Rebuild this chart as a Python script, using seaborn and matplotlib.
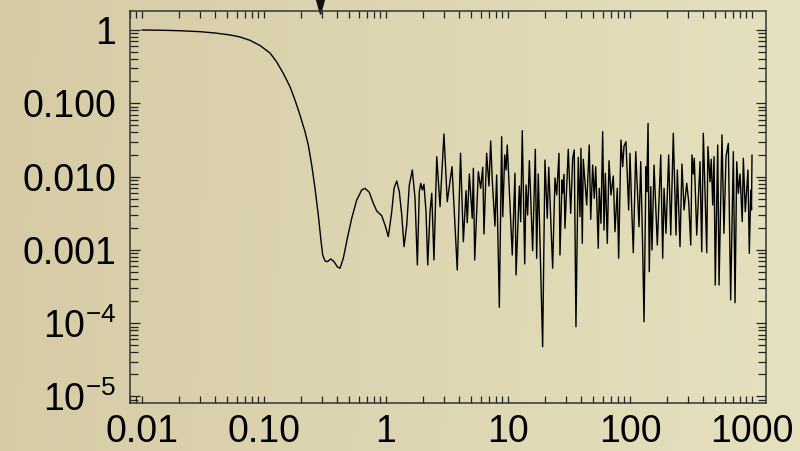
import numpy as np
import pandas as pd
import matplotlib
matplotlib.use("Agg")
import matplotlib.pyplot as plt
from matplotlib.path import Path
from matplotlib.ticker import FixedLocator, FixedFormatter, LogLocator, NullFormatter
import matplotlib.transforms as mtransforms
import seaborn as sns

# Filter response: log10 of frequency and log10 of gain for each sample
log_freq = [
    -2.000, -1.852, -1.689, -1.525, -1.402, -1.279, -1.197, -1.115, -1.033, -0.951,
    -0.896, -0.842, -0.787, -0.746, -0.705, -0.664, -0.637, -0.609, -0.582, -0.555,
    -0.535, -0.519, -0.500, -0.481, -0.453, -0.426, -0.399, -0.377, -0.350, -0.317,
    -0.281, -0.240, -0.199, -0.172, -0.137, -0.104, -0.076, -0.035, -0.008, 0.019,
    0.047, 0.066, 0.088, 0.109, 0.129, 0.148, 0.170, 0.191, 0.216, 0.238,
    0.257, 0.273, 0.285, 0.298, 0.311, 0.328, 0.342, 0.361, 0.375, 0.393,
    0.416, 0.443,
    0.475, 0.502, 0.541, 0.584, 0.611, 0.634, 0.656, 0.666, 0.683, 0.707,
    0.716, 0.727, 0.757, 0.776, 0.793, 0.803, 0.825, 0.844, 0.858, 0.871,
    0.893, 0.907, 0.929, 0.948, 0.957, 0.973, 0.984, 0.994, 1.035, 1.057,
    1.066, 1.093, 1.104, 1.117, 1.137, 1.148, 1.161, 1.175, 1.202, 1.224,
    1.235, 1.248, 1.284, 1.303, 1.322, 1.334, 1.366, 1.385, 1.399, 1.418,
    1.426, 1.443, 1.448, 1.459, 1.467, 1.494, 1.514, 1.530, 1.543, 1.557,
    1.576, 1.590, 1.598, 1.609, 1.617, 1.645, 1.666, 1.678, 1.694, 1.707,
    1.719, 1.740, 1.748, 1.762, 1.776, 1.787, 1.798, 1.814, 1.828, 1.844,
    1.863, 1.877, 1.896, 1.907, 1.926, 1.940, 1.951, 1.967, 1.989, 2.000,
    2.014, 2.027, 2.047, 2.074, 2.088, 2.104, 2.115, 2.131, 2.137, 2.148,
    2.158, 2.170, 2.180, 2.197, 2.224, 2.252, 2.268, 2.279, 2.295, 2.317,
    2.334, 2.355, 2.377, 2.388, 2.410, 2.426, 2.443, 2.465, 2.481, 2.498,
    2.508, 2.519, 2.527, 2.547, 2.574, 2.588, 2.601, 2.629, 2.639, 2.656,
    2.666, 2.678, 2.689, 2.699, 2.719, 2.730, 2.754, 2.770, 2.787, 2.806,
    2.825, 2.847, 2.861, 2.875, 2.888, 2.902, 2.920, 2.929, 2.945, 2.967,
    2.978, 2.990, 2.996, 3.000,
]
log_gain = [
    0.000, -0.003, -0.010, -0.023, -0.041, -0.068, -0.095, -0.141, -0.211, -0.314,
    -0.436, -0.591, -0.774, -0.955, -1.160, -1.387, -1.569, -1.842, -2.160, -2.524,
    -2.842, -3.070, -3.151, -3.161, -3.124, -3.161, -3.230, -3.251, -3.115, -2.842,
    -2.569, -2.319, -2.183, -2.160, -2.214, -2.365, -2.469, -2.534, -2.661, -2.820,
    -2.479, -2.160, -2.060, -2.206, -2.524, -2.956, -2.660, -2.115, -1.910, -2.296,
    -3.206, -2.206, -2.092, -2.183, -2.105, -2.479, -3.206, -2.479, -2.228, -3.138,
    -1.729, -2.411,
    -1.419, -2.342, -1.865, -3.274, -1.682, -2.888, -2.192, -2.629, -1.965, -2.569,
    -1.887, -3.138, -1.933, -2.160, -1.873, -2.783, -1.682, -2.128, -1.514, -2.046,
    -2.674, -1.978, -3.783, -1.456, -2.547, -1.705, -1.910, -1.569, -3.070, -1.955,
    -3.342, -2.128, -2.615, -1.374, -3.192, -2.115, -2.524, -1.783, -3.011, -1.628,
    -3.115, -1.965, -4.321, -1.774, -2.569, -1.873, -3.251, -2.019, -2.251, -1.682,
    -3.070, -2.046, -2.228, -1.969, -2.705, -1.628, -2.501, -1.750, -1.637, -4.048,
    -1.737, -2.547, -1.614, -2.910, -1.764, -2.387, -1.569, -2.583, -1.842, -2.296,
    -1.865, -2.978, -2.160, -2.637, -1.387, -2.729, -1.955, -2.910, -1.783, -2.251,
    -1.992, -2.752, -2.160, -3.115, -1.501, -1.865, -1.583, -1.524, -2.456, -1.682,
    -2.432, -3.038, -1.660, -2.684, -1.797, -2.978, -3.980, -1.865, -2.206, -1.273,
    -3.297, -2.138, -3.001, -1.842, -2.933, -1.705, -3.115, -2.160, -2.774, -1.705,
    -2.797, -1.409, -2.797, -1.910, -2.956, -1.828, -2.456, -2.091, -2.342, -2.933,
    -1.705, -1.965, -1.750, -2.797, -1.797, -3.025, -1.409, -3.038, -1.592, -2.070,
    -1.764, -2.387, -1.729, -3.479, -1.569, -3.479, -1.432, -2.774, -1.729, -1.546,
    -3.683, -1.660, -3.720, -1.797, -2.228, -1.965, -2.615, -1.750, -2.479, -1.910,
    -3.046, -2.183, -2.456, -1.705,
]
assert len(log_freq) == len(log_gain)

cutoff = 0.288

x_ticks = [0.01, 0.1, 1, 10, 100, 1000]
x_labels = ["0.01", "0.10", "1", "10", "100", "1000"]
y_ticks = [1, 0.1, 0.01, 0.001, 1e-4, 1e-5]
y_labels = ["1", "0.100", "0.010", "0.001", r"$10^{-4}$", r"$10^{-5}$"]

df = pd.DataFrame({"freq": 10 ** np.array(log_freq), "gain": 10 ** np.array(log_gain)})

sns.set_style("ticks")
plt.rcParams["font.family"] = ["Liberation Sans", "DejaVu Sans"]
plt.rcParams["mathtext.fontset"] = "custom"
plt.rcParams["mathtext.rm"] = "Liberation Sans"
plt.rcParams["mathtext.it"] = "Liberation Sans"
plt.rcParams["mathtext.default"] = "regular"

fig = plt.figure(figsize=(8.0, 4.51), dpi=100)

# parchment-coloured backdrop
bg = fig.add_axes([0, 0, 1, 1], zorder=-10)
left_col = np.array([214, 203, 165]) / 255
right_col = np.array([229, 224, 190]) / 255
t = np.linspace(0, 1, 400)[None, :, None]
v = np.linspace(0, 1, 200)[:, None, None]
grad = left_col * (1 - t) + right_col * t
grad = grad * (1 - 0.02 * v) + 0.02 * v * np.array([0.93, 0.91, 0.80])
bg.imshow(np.clip(grad, 0, 1), aspect="auto", extent=[0, 1, 0, 1])
bg.axis("off")

ax = fig.add_axes([0.1625, 0.1064, 0.795, 0.8692])
ax.set_facecolor("none")

sns.lineplot(data=df, x="freq", y="gain", ax=ax, color="black", linewidth=1.0,
             estimator=None, sort=False)

ax.set_xscale("log")
ax.set_yscale("log")
ax.set_xlim(10 ** -2.0984, 10 ** 3.1148)
ax.set_ylim(10 ** -5.089, 10 ** 0.259)

ax.xaxis.set_major_locator(FixedLocator(x_ticks))
ax.xaxis.set_major_formatter(FixedFormatter(x_labels))
ax.yaxis.set_major_locator(FixedLocator(y_ticks))
ax.yaxis.set_major_formatter(FixedFormatter(y_labels))
ax.xaxis.set_minor_locator(LogLocator(base=10, subs=np.arange(2, 10), numticks=20))
ax.yaxis.set_minor_locator(LogLocator(base=10, subs=np.arange(2, 10), numticks=20))
ax.xaxis.set_minor_formatter(NullFormatter())
ax.yaxis.set_minor_formatter(NullFormatter())

ax.set_xlabel("")
ax.set_ylabel("")

ax.tick_params(axis="both", which="both", direction="in", top=True, right=True,
               color="#222222", width=0.9, labelsize=27, labelcolor="black")
ax.tick_params(axis="x", which="both", length=5, pad=8)
ax.tick_params(axis="y", which="major", length=7, pad=10)
ax.tick_params(axis="y", which="minor", length=6)

for sp in ax.spines.values():
    sp.set_color("#333333")
    sp.set_linewidth(1.1)

# cutoff marker above the frame
tri = Path([(-0.55, 1.0), (0.55, 1.0), (0.0, -1.0), (-0.55, 1.0)],
           [Path.MOVETO, Path.LINETO, Path.LINETO, Path.CLOSEPOLY])
trans = mtransforms.blended_transform_factory(ax.transData, ax.transAxes)
trans = trans + mtransforms.ScaledTranslation(0, 5.5 / 100, fig.dpi_scale_trans)
ax.plot([cutoff], [1.0], marker=tri, markersize=11, color="#111111",
        transform=trans, clip_on=False, linestyle="none")

fig.savefig("out.png", dpi=100)
